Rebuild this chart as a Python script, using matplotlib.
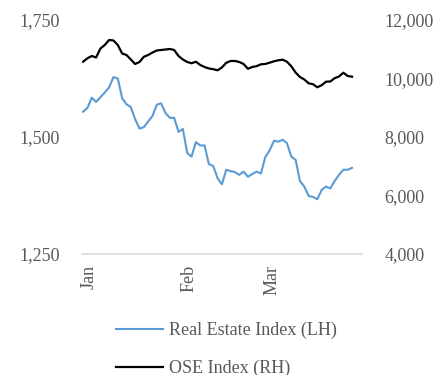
import matplotlib
matplotlib.use("Agg")
import matplotlib.pyplot as plt
from matplotlib.ticker import StrMethodFormatter

# Daily closes, Jan - Mar (trading days)
real_estate = [1554, 1562, 1584, 1575, 1585, 1595, 1606, 1628, 1625, 1583,
               1570, 1564, 1538, 1518, 1521, 1533, 1545, 1569, 1572, 1551,
               1541, 1541, 1511, 1517, 1466, 1458, 1489, 1482, 1482, 1442,
               1438, 1412, 1399, 1430, 1427, 1425, 1419, 1426, 1415, 1421,
               1426, 1422, 1457, 1471, 1492, 1490, 1494, 1487, 1458, 1451,
               1406, 1394, 1374, 1372, 1367, 1387, 1394, 1390, 1406, 1419,
               1430, 1430, 1434]
ose = [10574, 10691, 10769, 10718, 11026, 11145, 11316, 11299, 11145, 10855,
       10803, 10650, 10496, 10564, 10742, 10803, 10889, 10957, 10974, 10991,
       11009, 10974, 10769, 10650, 10564, 10520, 10574, 10462, 10393, 10342,
       10318, 10280, 10376, 10537, 10598, 10598, 10564, 10496, 10332, 10393,
       10421, 10485, 10496, 10540, 10588, 10622, 10643, 10574, 10417, 10202,
       10051, 9966, 9836, 9805, 9699, 9771, 9891, 9897, 10010, 10068,
       10198, 10085, 10062]
month_labels = ["Jan", "Feb", "Mar"]
month_pos = [1.5, 24.5, 43.5]

plt.rcParams["font.family"] = ["Liberation Serif", "DejaVu Serif"]
text_grey = "#595959"

fig = plt.figure(figsize=(4.39, 3.75), dpi=100)
ax = fig.add_axes([0.1868, 0.3227, 0.6378, 0.624])
ax2 = ax.twinx()

x = list(range(len(real_estate)))
l1, = ax.plot(x, real_estate, color="#5B9BD5", lw=1.5, label="Real Estate Index (LH)")
l2, = ax2.plot(x, ose, color="black", lw=1.6, label="OSE Index (RH)")

ax.set_xlim(-0.25, 64.3)
ax.set_ylim(1250, 1750)
ax.set_yticks([1250, 1500, 1750])
ax2.set_ylim(4000, 12000)
ax2.set_yticks([4000, 6000, 8000, 10000, 12000])
ax.yaxis.set_major_formatter(StrMethodFormatter("{x:,.0f}"))
ax2.yaxis.set_major_formatter(StrMethodFormatter("{x:,.0f}"))

ax.set_xticks(month_pos)
ax.set_xticklabels(month_labels, rotation=90)

for a in (ax, ax2):
    for s in a.spines.values():
        s.set_visible(False)
    a.tick_params(length=0, labelsize=13, colors=text_grey)
ax.tick_params(axis="y", pad=16)
ax2.tick_params(axis="y", pad=16)
ax.tick_params(axis="x", pad=8)
ax.spines["bottom"].set_visible(True)
ax.spines["bottom"].set_color("#d9d9d9")
ax.spines["bottom"].set_linewidth(1.2)

fig.legend(handles=[l1, l2], loc="upper left", bbox_to_anchor=(116 / 439, 1 - 322 / 375),
           frameon=False, fontsize=13, labelcolor=text_grey, handlelength=2.6,
           handletextpad=0.35, labelspacing=1.15, borderpad=0, borderaxespad=0)

fig.savefig("out.png", dpi=100)
